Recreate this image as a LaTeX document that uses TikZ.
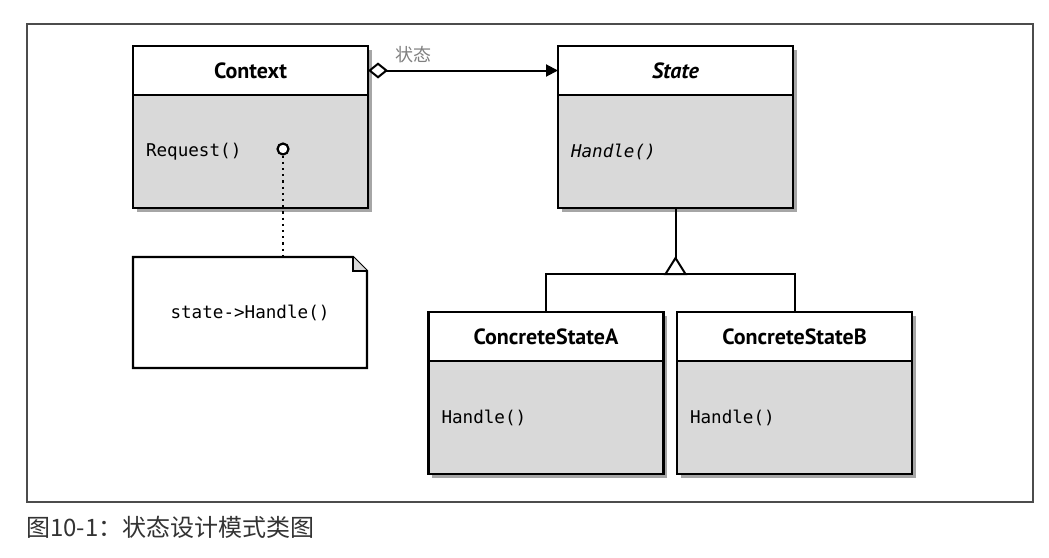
\documentclass[tikz,border=0pt]{standalone}
\usepackage{fontspec}
\newfontfamily\headfont{PT Sans}
\newfontfamily\codefont{DejaVu Sans Mono}
\newfontfamily\cjkfont{Noto Sans CJK SC}
\usetikzlibrary{positioning, arrows.meta, shadows}

\begin{document}
\begin{tikzpicture}[x=0.5pt, y=-0.5pt,
  shade/.style={drop shadow={shadow xshift=1.8pt, shadow yshift=-1.8pt, fill=black, opacity=0.35}},
  head/.style={draw, line width=1.1pt, fill=white, outer sep=0pt, inner sep=0pt, shade,
    minimum width=117.5pt, minimum height=24.5pt, font=\headfont\bfseries\fontsize{11}{13}\selectfont},
  body/.style={draw, line width=1.1pt, fill=gray!30, outer sep=0pt, inner sep=0pt, shade,
    minimum width=117.5pt, minimum height=56.5pt, text width=104.5pt, align=left,
    font=\codefont\fontsize{8.8}{10}\selectfont},
  link/.style={line width=1pt},
]
\useasboundingbox (0,0) rectangle (1049,557);
%\draw[help lines, step=50] (0,0) grid (1049,557);
\draw [gray!60!black, line width=0.6pt] (27,24) rectangle (1033,502);

\node [head] (context) at (250.5,70.5) {Context};
\node [body, below=0pt of context] (context-body) {Request()};
\node [head] (state) at (675.5,70.5) {\itshape State};
\node [body, below=0pt of state] (state-body) {\itshape Handle()};
\node [head] (csa) at (546,336.5) {ConcreteStateA};
\node [body, below=0pt of csa] (csa-body) {Handle()};
\node [head] (csb) at (794.5,336.5) {ConcreteStateB};
\node [body, below=0pt of csb] (csb-body) {Handle()};

% note
\node [minimum width=117pt, minimum height=55.5pt, outer sep=0pt,
  font=\codefont\fontsize{8.8}{10}\selectfont] (note) at (250,312.5) {state->Handle()};
\draw [line width=1.1pt] (note.north west) -- ([xshift=-7pt]note.north east)
  -- ([yshift=-7pt]note.north east) -- (note.south east) -- (note.south west) -- cycle;
\draw [line width=1.1pt, fill=gray!30] ([xshift=-7pt]note.north east)
  -- ([xshift=-7pt, yshift=-7pt]note.north east) -- ([yshift=-7pt]note.north east);
\node [circle, draw, line width=1.1pt, fill=white, inner sep=0pt, minimum size=5.5pt] (call) at (283,149) {};
\draw [dotted, line width=1.1pt] (call.south) -- (call.south |- note.north);

% aggregation
\draw [link, {Diamond[open, length=10pt, width=8pt]}-{Triangle[length=6pt, width=6pt]}]
  (context.east) -- (state.west)
  node [pos=0.24, above, text=gray, font=\cjkfont\fontsize{9}{10}\selectfont] (role) {状态};

% generalization
\coordinate (fork) at (675.5,274);
\draw [link] (state-body.south) -- (fork);
\draw [link] (csa.north) |- (fork) -| (csb.north);
\draw [link, fill=white] (fork) ++(-10,0) -- ++(10,-16) -- ++(10,16) -- cycle;

\node [anchor=west, text=black!80, font=\cjkfont\fontsize{12}{14}\selectfont] (caption) at (19,527) {图10-1：状态设计模式类图};
\end{tikzpicture}
\end{document}
